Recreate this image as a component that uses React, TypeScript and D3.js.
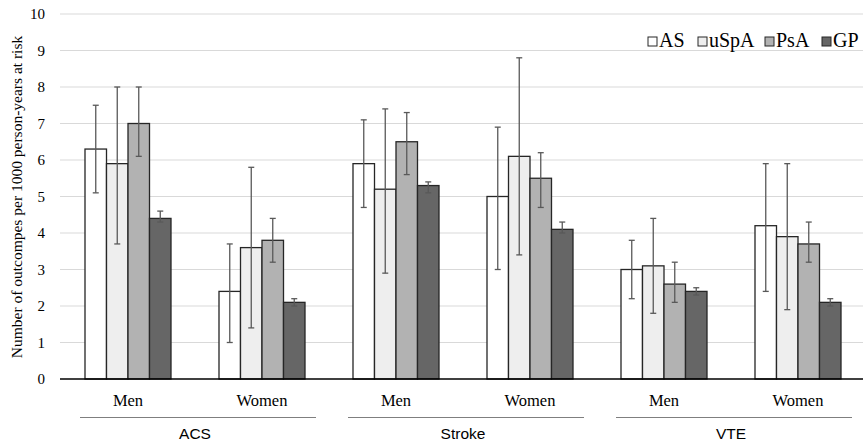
import React from "react";
import * as d3 from "d3";

const outcomes = ["ACS", "Stroke", "VTE"];
const sexes = ["Men", "Women"];
const series = ["AS", "uSpA", "PsA", "GP"];
const seriesColors = ["#ffffff", "#eeeeee", "#b2b2b2", "#666666"];
const yTicks = [0, 1, 2, 3, 4, 5, 6, 7, 8, 9, 10];

// values per category (ACS Men, ACS Women, Stroke Men, Stroke Women, VTE Men, VTE Women)
const AS = [6.3, 2.4, 5.9, 5.0, 3.0, 4.2];
const AS_lo = [5.1, 1.0, 4.7, 3.0, 2.2, 2.4];
const AS_hi = [7.5, 3.7, 7.1, 6.9, 3.8, 5.9];
const uSpA = [5.9, 3.6, 5.2, 6.1, 3.1, 3.9];
const uSpA_lo = [3.7, 1.4, 2.9, 3.4, 1.8, 1.9];
const uSpA_hi = [8.0, 5.8, 7.4, 8.8, 4.4, 5.9];
const PsA = [7.0, 3.8, 6.5, 5.5, 2.6, 3.7];
const PsA_lo = [6.1, 3.2, 5.6, 4.7, 2.1, 3.2];
const PsA_hi = [8.0, 4.4, 7.3, 6.2, 3.2, 4.3];
const GP = [4.4, 2.1, 5.3, 4.1, 2.4, 2.1];
const GP_lo = [4.3, 2.0, 5.1, 4.0, 2.3, 2.0];
const GP_hi = [4.6, 2.2, 5.4, 4.3, 2.5, 2.2];

const values = [AS, uSpA, PsA, GP];
const lows = [AS_lo, uSpA_lo, PsA_lo, GP_lo];
const highs = [AS_hi, uSpA_hi, PsA_hi, GP_hi];

const categories = outcomes.flatMap((o) => sexes.map((s) => `${o}|${s}`));

export default function App() {
  const W = 863;
  const H = 447;
  const plotLeft = 61;
  const plotRight = 865;
  const y = d3.scaleLinear().domain([0, 10]).range([379, 14]);
  const x0 = d3.scaleBand().domain(categories).range([plotLeft, plotRight]).padding(0);
  const gap = 24;
  const x1 = d3
    .scaleBand()
    .domain(series)
    .range([gap, x0.bandwidth() - gap])
    .padding(0);

  const serif = "'Liberation Serif', 'Times New Roman', serif";
  const sans = "'Liberation Sans', Arial, sans-serif";

  const legendX = [648, 698, 765, 822];

  return (
    <svg width={W} height={H} style={{ position: "absolute", left: 0, top: 0, background: "#fff" }}>
      {/* gridlines */}
      {yTicks.filter((t) => t > 0).map((t) => (
        <line key={t} x1={60} x2={W} y1={y(t)} y2={y(t)} stroke="#d9d9d9" strokeWidth={1.2} />
      ))}
      {/* y tick labels */}
      {yTicks.map((t) => (
        <text key={t} x={45} y={y(t) + 5} textAnchor="end" fontFamily={serif} fontSize={15} fill="#000">
          {t}
        </text>
      ))}
      {/* y axis title */}
      <text
        transform={`translate(22,197) rotate(-90)`}
        textAnchor="middle"
        fontFamily={serif}
        fontSize={15.5}
        fill="#000"
      >
        Number of outcompes per 1000 person-years at risk
      </text>
      {/* bars */}
      {categories.map((c, ci) =>
        series.map((s, si) => {
          const bx = (x0(c) as number) + (x1(s) as number);
          const bw = x1.bandwidth();
          const v = values[si][ci];
          return (
            <rect
              key={`${c}-${s}`}
              x={bx}
              y={y(v)}
              width={bw}
              height={y(0) - y(v)}
              fill={seriesColors[si]}
              stroke="#262626"
              strokeWidth={1.3}
            />
          );
        })
      )}
      {/* error bars */}
      {categories.map((c, ci) =>
        series.map((s, si) => {
          const cx = (x0(c) as number) + (x1(s) as number) + x1.bandwidth() / 2;
          const lo = y(lows[si][ci]);
          const hi = y(highs[si][ci]);
          return (
            <g key={`e-${c}-${s}`} stroke="#595959" strokeWidth={1.3}>
              <line x1={cx} x2={cx} y1={lo} y2={hi} />
              <line x1={cx - 3} x2={cx + 3} y1={lo} y2={lo} />
              <line x1={cx - 3} x2={cx + 3} y1={hi} y2={hi} />
            </g>
          );
        })
      )}
      {/* baseline */}
      <line x1={60} x2={W} y1={y(0)} y2={y(0)} stroke="#000" strokeWidth={1.3} />
      {/* category labels */}
      {categories.map((c) => {
        const cx = (x0(c) as number) + x0.bandwidth() / 2;
        return (
          <text key={`l-${c}`} x={cx} y={406} textAnchor="middle" fontFamily={serif} fontSize={16.5} fill="#000">
            {c.split("|")[1]}
          </text>
        );
      })}
      {/* outcome group labels */}
      {outcomes.map((o) => {
        const a = (x0(`${o}|Men`) as number) + x0.bandwidth() / 2;
        const b = (x0(`${o}|Women`) as number) + x0.bandwidth() / 2;
        const mid = (a + b) / 2;
        return (
          <g key={`g-${o}`}>
            <line x1={mid - 115} x2={mid + 121} y1={417.5} y2={417.5} stroke="#7f7f7f" strokeWidth={1} />
            <text x={mid} y={439} textAnchor="middle" fontFamily={sans} fontSize={15.5} fill="#000">
              {o}
            </text>
          </g>
        );
      })}
      {/* legend */}
      {series.map((s, si) => (
        <g key={`lg-${s}`}>
          <rect x={legendX[si]} y={37} width={9} height={9} fill={seriesColors[si]} stroke="#262626" strokeWidth={1} />
          <text x={legendX[si] + 11} y={46.5} fontFamily={serif} fontSize={20} fill="#000">
            {s}
          </text>
        </g>
      ))}
    </svg>
  );
}
